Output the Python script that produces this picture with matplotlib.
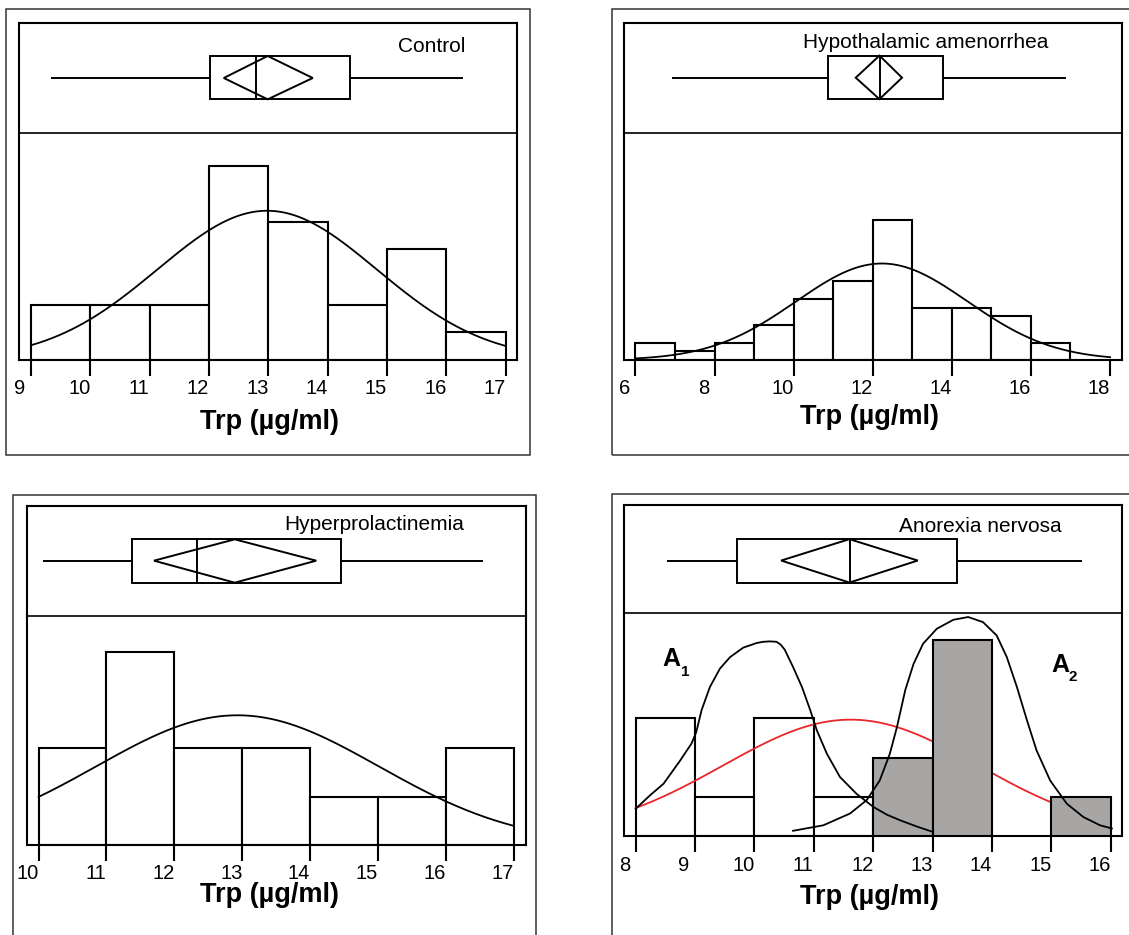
import numpy as np
import matplotlib
matplotlib.use('Agg')
import matplotlib.pyplot as plt
from matplotlib.patches import Rectangle, Polygon
from matplotlib.transforms import ScaledTranslation

plt.rcParams['font.family'] = ['Liberation Sans', 'DejaVu Sans']

# ---- data ----
# Control
control_bins = [9, 10, 11, 12, 13, 14, 15, 16]
control_counts = [2, 2, 2, 7, 5, 2, 4, 1]
control_fit = (12.98, 1.85, 25)          # mean, sd, n
control_box = (9.35, 12.02, 12.79, 14.38, 16.27)   # whisker lo, q1, median, q3, whisker hi
control_diamond = (12.25, 12.99, 13.75)  # lower ci, mean, upper ci
control_ticks = [9, 10, 11, 12, 13, 14, 15, 16, 17]

# Hypothalamic amenorrhea
hypo_bins = [6, 7, 8, 9, 10, 11, 12, 13, 14, 15, 16]
hypo_counts = [2, 1, 2, 4, 7, 9, 16, 6, 6, 5, 2]
hypo_fit = (12.23, 2.17, 60)
hypo_box = (6.96, 10.86, 12.18, 13.78, 16.85)
hypo_diamond = (11.57, 12.17, 12.74)
hypo_ticks = [6, 8, 10, 12, 14, 16, 18]

# Hyperprolactinemia
hyper_bins = [10, 11, 12, 13, 14, 15, 16]
hyper_counts = [2, 4, 2, 2, 1, 1, 2]
hyper_fit = (12.93, 2.08, 14)
hyper_box = (10.08, 11.37, 12.33, 14.46, 16.53)
hyper_diamond = (11.70, 12.89, 14.09)
hyper_ticks = [10, 11, 12, 13, 14, 15, 16, 17]

# Anorexia nervosa (A1 white bars, A2 grey bars)
an_a1_bins = [8, 9, 10, 11]
an_a1_counts = [3, 1, 3, 1]
an_a2_bins = [12, 13, 14, 15]
an_a2_counts = [2, 5, 0, 1]
an_fit = (11.62, 2.15, 16)
an_box = (8.55, 9.70, 11.61, 13.41, 15.50)
an_diamond = (10.45, 11.60, 12.75)
an_ticks = [8, 9, 10, 11, 12, 13, 14, 15, 16]
a1_curve_x = [8.00, 8.24, 8.47, 8.75, 8.94, 9.02, 9.11, 9.25, 9.42, 9.59, 9.81, 10.04, 10.15,
              10.26, 10.37, 10.44, 10.51, 10.65, 10.80, 10.94, 11.05, 11.22, 11.44, 11.72,
              12.00, 12.23, 12.45, 12.75, 13.01]
a1_curve_y = [0.70, 1.04, 1.34, 1.93, 2.36, 2.65, 3.21, 3.80, 4.27, 4.56, 4.80, 4.92, 4.95,
              4.96, 4.95, 4.88, 4.75, 4.31, 3.80, 3.21, 2.70, 2.10, 1.51, 1.08,
              0.75, 0.55, 0.41, 0.24, 0.11]
a2_curve_x = [10.65, 11.16, 11.61, 11.89, 12.11, 12.28, 12.40, 12.54, 12.68, 12.84, 13.07,
              13.35, 13.60, 13.85, 14.08, 14.25, 14.42, 14.59, 14.75, 14.98, 15.26, 15.54,
              15.82, 16.02]
a2_curve_y = [0.14, 0.28, 0.58, 0.92, 1.42, 2.10, 2.78, 3.72, 4.39, 4.90, 5.28,
              5.51, 5.58, 5.45, 5.11, 4.56, 3.80, 2.95, 2.19, 1.42, 0.83, 0.49,
              0.28, 0.20]

W, H = 1129, 935
fig = plt.figure(figsize=(W / 100, H / 100), dpi=100)


def fx(x):
    return x / W


def fy(y):
    return 1 - y / H


def normal_curve(ax, fit, lo, hi, **kw):
    m, sd, n = fit
    x = np.linspace(lo, hi, 300)
    y = n / (sd * np.sqrt(2 * np.pi)) * np.exp(-0.5 * ((x - m) / sd) ** 2)
    ax.plot(x, y, **kw)


def make_panel(outer, inner, xlim, ymax, ticks, title_xy, title, label_xy):
    # outer frame
    ol, ot, orr, ob = outer
    fig.patches.append(Rectangle((fx(ol), fy(ob)), fx(orr - ol), (ob - ot) / H,
                                 transform=fig.transFigure, fill=False,
                                 edgecolor='#333333', lw=1.1))
    il, it, idv, ir, ib = inner
    axh = fig.add_axes([fx(il), fy(ib), fx(ir - il), (ib - idv) / H])
    axb = fig.add_axes([fx(il), fy(idv), fx(ir - il), (idv - it) / H])
    for ax in (axb, axh):
        ax.set_xlim(*xlim)
        ax.set_facecolor('none')
        for s in ax.spines.values():
            s.set_linewidth(1.5)
            s.set_color('black')
    axb.set_ylim(0, 1)
    axb.set_xticks([])
    axb.set_yticks([])
    axb.spines['bottom'].set_linewidth(1.2)
    axh.spines['top'].set_visible(False)
    axh.set_ylim(0, ymax)
    axh.set_yticks([])
    axh.set_xticks(ticks)
    axh.set_xticklabels([str(t) for t in ticks])
    axh.tick_params(axis='x', direction='out', length=11.5, width=1.5, pad=2.5,
                    labelsize=14.5)
    off = ScaledTranslation(-11 / 100, 0, fig.dpi_scale_trans)
    for lab in axh.get_xticklabels():
        lab.set_transform(lab.get_transform() + off)
    fig.text(fx(title_xy[0]), fy(title_xy[1]), title, ha='center', va='center',
             fontsize=15)
    fig.text(fx(label_xy[0]), fy(label_xy[1]), 'Trp (µg/ml)', ha='center', va='center',
             fontsize=19.5, fontweight='bold')
    return axb, axh


def draw_box(ax, box, diamond, boxy):
    wlo, q1, med, q3, whi = box
    lo, mean, hi = diamond
    yb, yt, yw = boxy
    ax.add_patch(Rectangle((q1, yb), q3 - q1, yt - yb, fill=False, edgecolor='black', lw=1.4))
    ax.plot([wlo, q1], [yw, yw], color='black', lw=1.4)
    ax.plot([q3, whi], [yw, yw], color='black', lw=1.4)
    ax.plot([med, med], [yb, yt], color='black', lw=1.4)
    ax.add_patch(Polygon([(lo, yw), (mean, yt), (hi, yw), (mean, yb)], closed=True,
                         fill=False, edgecolor='black', lw=1.4))


def draw_bars(ax, bins, counts, color='white', z=2):
    ax.bar(bins, counts, width=1, align='edge', color=color, edgecolor='black',
           lw=1.5, zorder=z)


curve_kw = dict(color='black', lw=1.3, zorder=5, solid_joinstyle='round')

# Control
axb, axh = make_panel((6, 9, 530.3, 455), (18.9, 23.3, 132.7, 516.5, 360),
                      (8.796, 17.185), 8.21, control_ticks,
                      (432, 46), 'Control', (270, 421.7))
draw_box(axb, control_box, control_diamond, (0.305, 0.701, 0.5))
draw_bars(axh, control_bins, control_counts)
normal_curve(axh, control_fit, 9, 17, **curve_kw)

# Hypothalamic amenorrhea
axb, axh = make_panel((611.8, 9.3, 1145, 455), (623.6, 22.7, 132.7, 1122.3, 360),
                      (5.70, 18.31), 25.98, hypo_ticks,
                      (925.6, 42.7), 'Hypothalamic amenorrhea', (870, 416.7))
draw_box(axb, hypo_box, hypo_diamond, (0.305, 0.701, 0.5))
draw_bars(axh, hypo_bins, hypo_counts)
normal_curve(axh, hypo_fit, 6, 18, **curve_kw)

# Hyperprolactinemia
axb, axh = make_panel((12.7, 494.5, 535.5, 950), (26.9, 506, 616, 526, 845),
                      (9.828, 17.18), 4.74, hyper_ticks,
                      (374, 525), 'Hyperprolactinemia', (270, 895))
draw_box(axb, hyper_box, hyper_diamond, (0.303, 0.697, 0.503))
draw_bars(axh, hyper_bins, hyper_counts)
normal_curve(axh, hyper_fit, 10, 17, **curve_kw)

# Anorexia nervosa
axb, axh = make_panel((611.8, 494.3, 1145, 950), (623.5, 504.7, 612.7, 1122, 836.3),
                      (7.795, 16.19), 5.69, an_ticks,
                      (980.7, 526.7), 'Anorexia nervosa', (870, 896.7))
draw_box(axb, an_box, an_diamond, (0.279, 0.681, 0.483))
draw_bars(axh, an_a1_bins, an_a1_counts, 'white', 2)
normal_curve(axh, an_fit, 8, 16, color='#e8262a', lw=1.3, zorder=3)
draw_bars(axh, [b for b, c in zip(an_a2_bins, an_a2_counts) if c > 0],
          [c for c in an_a2_counts if c > 0], '#a7a6a5', 4)
axh.plot(a1_curve_x, a1_curve_y, **curve_kw)
axh.plot(a2_curve_x, a2_curve_y, **curve_kw)
fig.text(fx(671.5), fy(659), 'A', ha='center', va='center', fontsize=18, fontweight='bold')
fig.text(fx(685.5), fy(671.5), '1', ha='center', va='center', fontsize=11, fontweight='bold')
fig.text(fx(1060), fy(664.5), 'A', ha='center', va='center', fontsize=18, fontweight='bold')
fig.text(fx(1073), fy(677), '2', ha='center', va='center', fontsize=11, fontweight='bold')

fig.savefig('out.png', dpi=100)
